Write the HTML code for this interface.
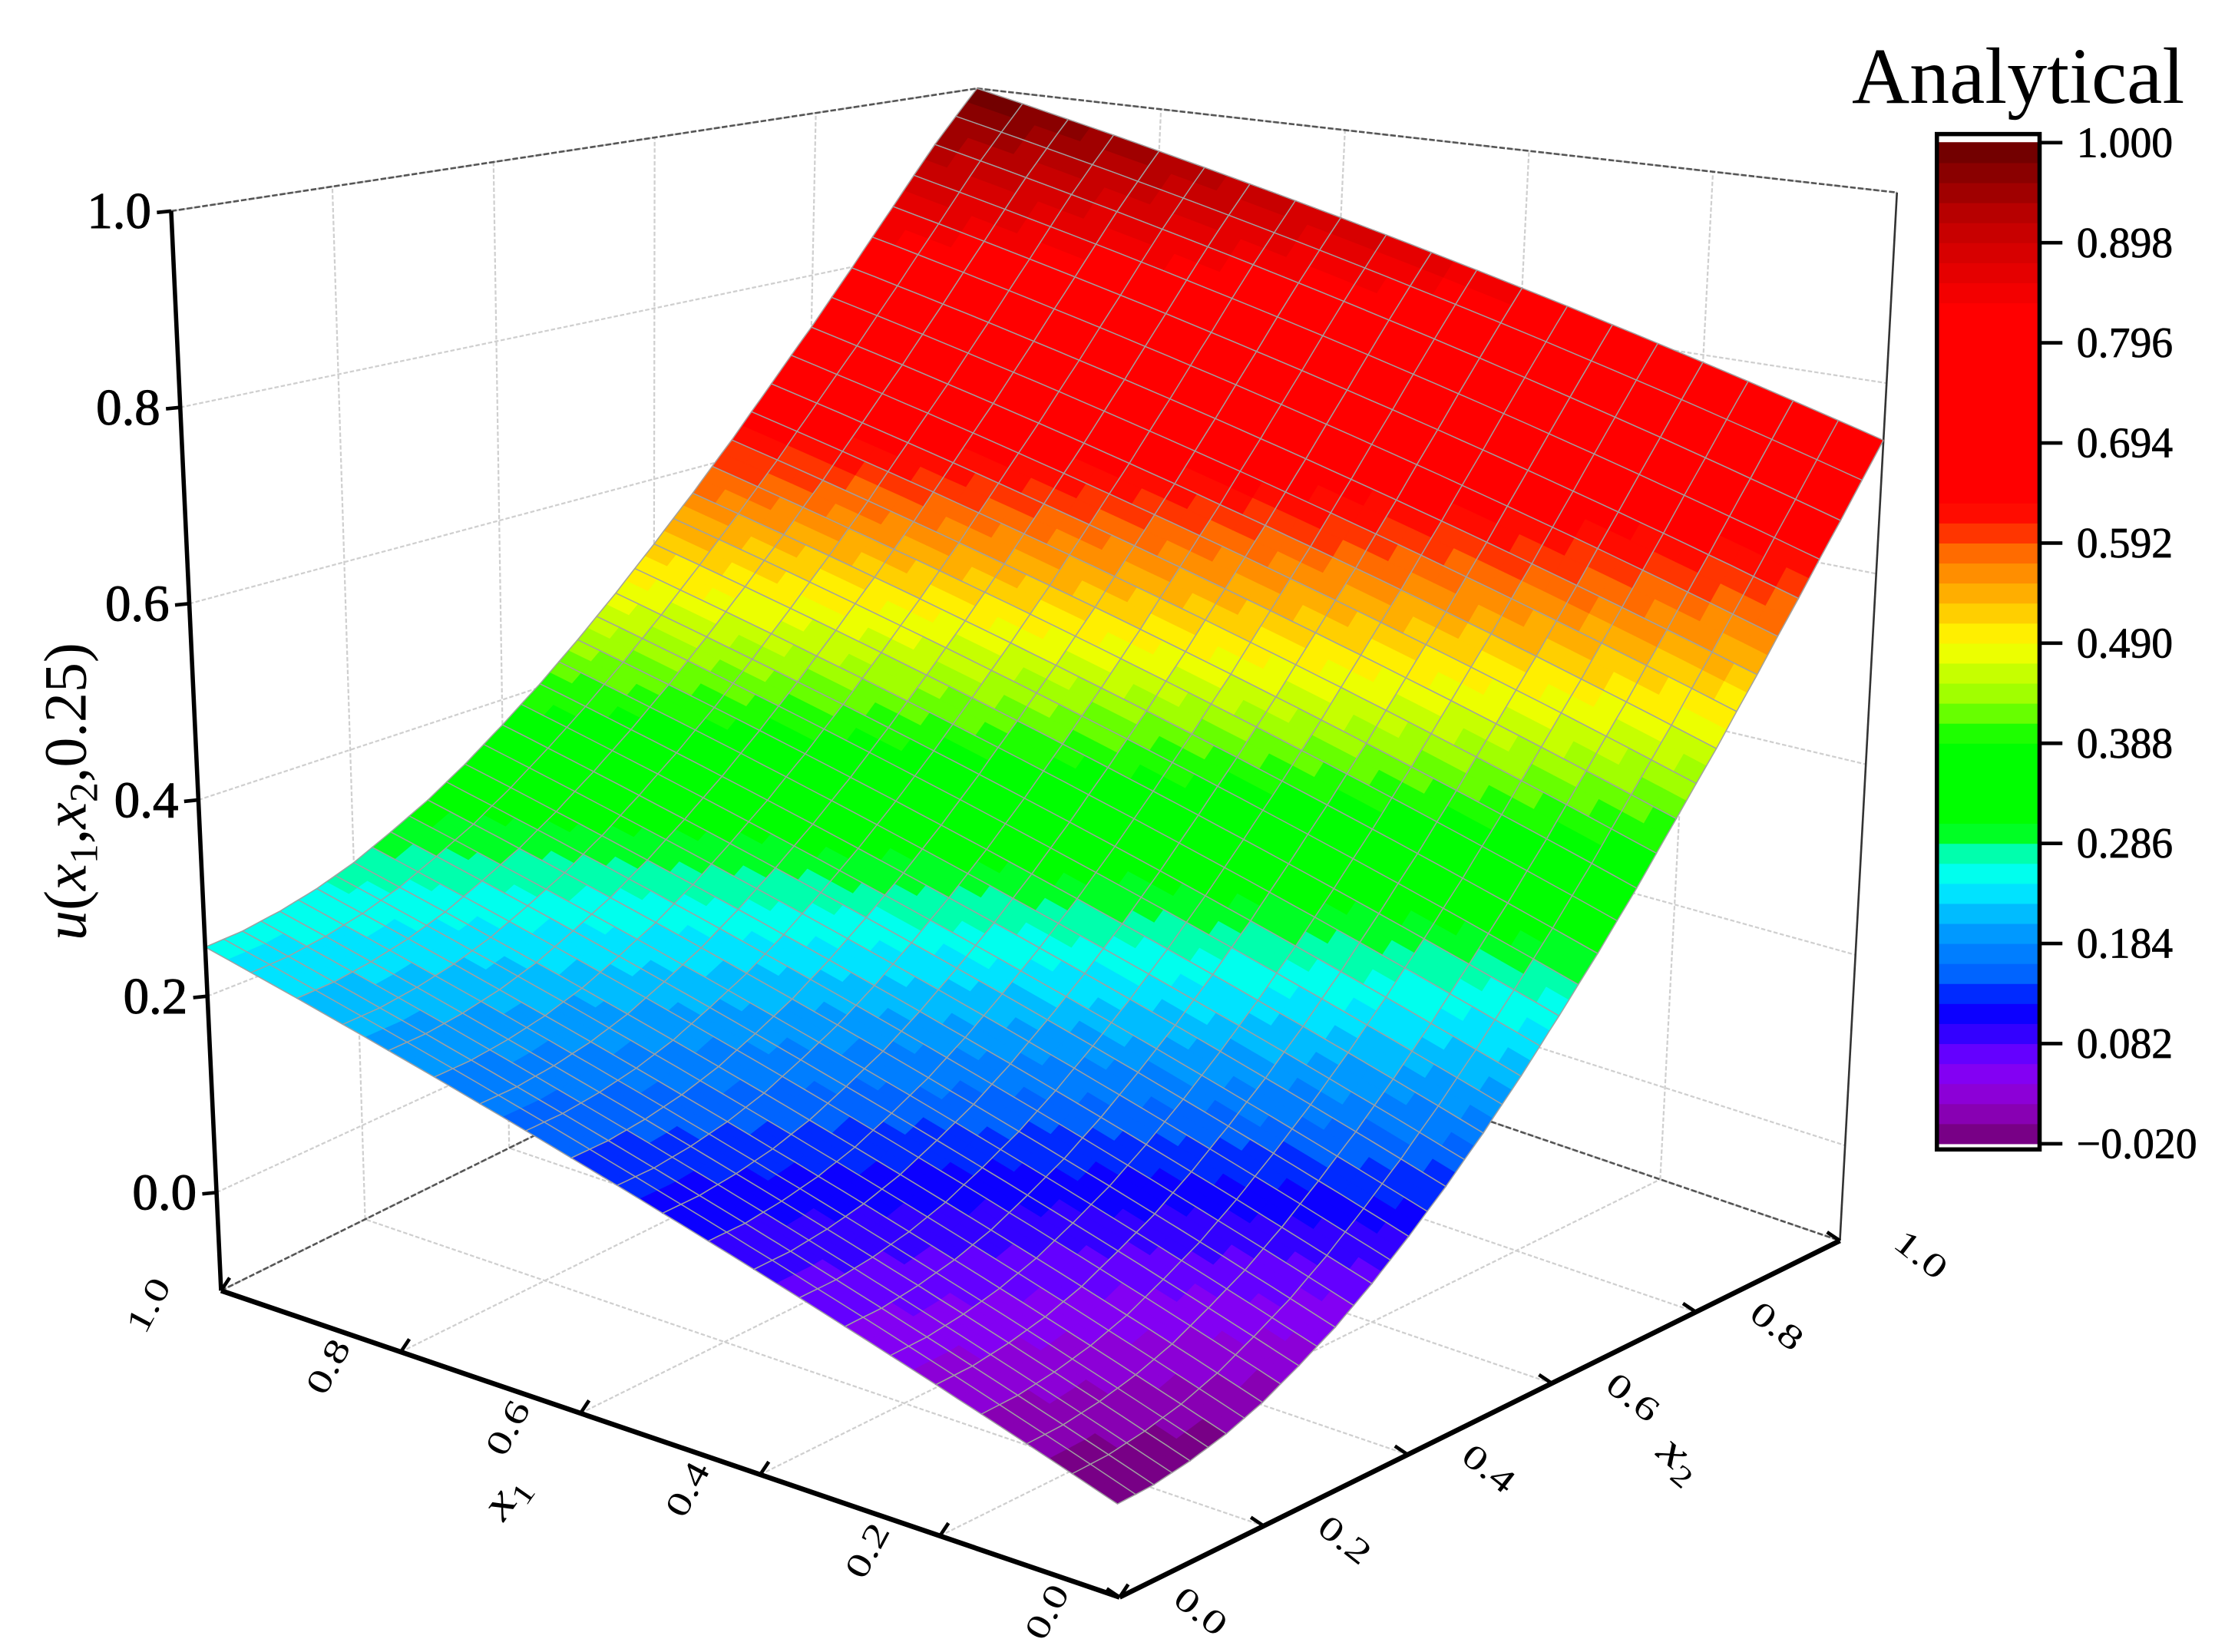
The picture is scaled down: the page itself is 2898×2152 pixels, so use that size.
<!DOCTYPE html>
<html><head><meta charset="utf-8"><title>Analytical surface</title>
<style>html,body{margin:0;padding:0;background:#fff}svg{display:block}</style></head>
<body>
<svg id="chart" xmlns="http://www.w3.org/2000/svg" width="2898" height="2152" viewBox="0 0 1560 1158.4" font-family="'Liberation Serif', serif">
<g id="walls"></g>
<g id="surf"></g>
<g id="axes"></g>
<g id="cbar"></g>
</svg>
<script>
const x1Vals=[0,0.1,0.2,0.3,0.4,0.5,0.6,0.7,0.8,0.9,1.0];
const x2Vals=[0,0.05,0.1,0.15,0.2,0.25,0.3,0.35,0.4,0.45,0.5,0.55,0.6,0.65,0.7,0.75,0.8,0.85,0.9,0.95,1.0];
const uRows=[
[-0.020,-0.018,-0.012,-0.003,0.010,0.028,0.048,0.073,0.102,0.134,0.170,0.210,0.254,0.301,0.352,0.408,0.466,0.529,0.596,0.666,0.740],
[0.007,0.009,0.015,0.024,0.037,0.055,0.075,0.100,0.129,0.161,0.197,0.237,0.281,0.328,0.379,0.435,0.493,0.556,0.623,0.693,0.766],
[0.034,0.036,0.042,0.051,0.064,0.082,0.102,0.127,0.156,0.188,0.224,0.264,0.308,0.355,0.406,0.462,0.520,0.583,0.650,0.720,0.792],
[0.061,0.063,0.069,0.078,0.091,0.109,0.129,0.154,0.183,0.215,0.251,0.291,0.335,0.382,0.433,0.489,0.547,0.610,0.677,0.747,0.818],
[0.088,0.090,0.096,0.105,0.118,0.136,0.156,0.181,0.210,0.242,0.278,0.318,0.362,0.409,0.460,0.516,0.574,0.637,0.704,0.774,0.844],
[0.115,0.117,0.123,0.132,0.145,0.163,0.183,0.208,0.237,0.269,0.305,0.345,0.389,0.436,0.487,0.543,0.601,0.664,0.731,0.801,0.870],
[0.142,0.144,0.150,0.159,0.172,0.190,0.210,0.235,0.264,0.296,0.332,0.372,0.416,0.463,0.514,0.570,0.628,0.691,0.758,0.828,0.896],
[0.169,0.171,0.177,0.186,0.199,0.217,0.237,0.262,0.291,0.323,0.359,0.399,0.443,0.490,0.541,0.597,0.655,0.718,0.785,0.855,0.922],
[0.196,0.198,0.204,0.213,0.226,0.244,0.264,0.289,0.318,0.350,0.386,0.426,0.470,0.517,0.568,0.624,0.682,0.745,0.812,0.882,0.948],
[0.223,0.225,0.231,0.240,0.253,0.271,0.291,0.316,0.345,0.377,0.413,0.453,0.497,0.544,0.595,0.651,0.709,0.772,0.839,0.909,0.974],
[0.250,0.252,0.258,0.267,0.280,0.298,0.318,0.343,0.372,0.404,0.440,0.480,0.524,0.571,0.622,0.678,0.736,0.799,0.866,0.936,1.000]];
const zTicks=[0.0,0.2,0.4,0.6,0.8,1.0];
const zTickLabels=["0.0","0.2","0.4","0.6","0.8","1.0"];
const xyTicks=[0,0.2,0.4,0.6,0.8,1.0];
const xyTickLabels=["0.0","0.2","0.4","0.6","0.8","1.0"];
const cbarTicks=[1.000,0.898,0.796,0.694,0.592,0.490,0.388,0.286,0.184,0.082,-0.020];
const cbarLabels=["1.000","0.898","0.796","0.694","0.592","0.490","0.388","0.286","0.184","0.082","\u22120.020"];

const NS="http://www.w3.org/2000/svg";
const ZMIN=-0.1,ZMAX=1.0,VMIN=-0.02,VMAX=1.0,NLEV=50,SUB=4;
const B={p00:[785,1120],p10:[155,905],p01:[1290,870],p11:[660,655]};
const T={p00:[765,221],p10:[120,148],p01:[1330,135],p11:[685,62]};
function bil(C,a,b){return [0,1].map(k=>C.p00[k]*(1-a)*(1-b)+C.p10[k]*a*(1-b)+C.p01[k]*(1-a)*b+C.p11[k]*a*b);}
function P(a,b,z){const lo=bil(B,a,b),hi=bil(T,a,b),t=(z-ZMIN)/(ZMAX-ZMIN);return [lo[0]+(hi[0]-lo[0])*t,lo[1]+(hi[1]-lo[1])*t];}
const stops=[[-0.02,'#700070'],[0.02,'#9000c8'],[0.06,'#8000ff'],[0.10,'#2000ff'],[0.12,'#0000ff'],[0.15,'#0060ff'],[0.20,'#00a0ff'],[0.25,'#00ffff'],[0.285,'#00ff90'],[0.30,'#00ff00'],[0.39,'#00ff00'],[0.43,'#90ff00'],[0.49,'#ffff00'],[0.54,'#ffb000'],[0.58,'#ff7000'],[0.61,'#ff2000'],[0.63,'#ff0000'],[0.83,'#ff0000'],[0.92,'#c00000'],[1.0,'#680000']];
function hx(c){return [1,3,5].map(i=>parseInt(c.substr(i,2),16));}
function cmapRaw(v){if(v<=stops[0][0])return stops[0][1];for(let i=1;i<stops.length;i++){if(v<=stops[i][0]){const a=hx(stops[i-1][1]),b=hx(stops[i][1]),t=(v-stops[i-1][0])/(stops[i][0]-stops[i-1][0]);return 'rgb('+a.map((x,k)=>Math.round(x+(b[k]-x)*t)).join(',')+')';}}return stops[stops.length-1][1];}
function cmap(v){let l=Math.floor((v-VMIN)/(VMAX-VMIN)*NLEV);l=Math.max(0,Math.min(NLEV-1,l));return cmapRaw(VMIN+(l+0.5)*(VMAX-VMIN)/NLEV);}
function mk(tag,attrs,parent){const e=document.createElementNS(NS,tag);for(const k in attrs)e.setAttribute(k,attrs[k]);parent.appendChild(e);return e;}
function line(p,q,st,w,par,dash){const e=mk('line',{x1:p[0],y1:p[1],x2:q[0],y2:q[1],stroke:st,'stroke-width':w},par);if(dash)e.setAttribute('stroke-dasharray',dash);return e;}
function f(p){return p[0].toFixed(1)+','+p[1].toFixed(1);}

// walls grid
const W=document.getElementById('walls');
xyTicks.forEach(t=>{
 let e=line(P(1,t,ZMIN),P(1,t,ZMAX),'#cfcfcf',1.2,W,'3 1.5');
 
 e=line(P(t,1,ZMIN),P(t,1,ZMAX),'#cfcfcf',1.2,W,'3 1.5');
 
 e=line(P(t,0,ZMIN),P(t,1,ZMIN),'#cfcfcf',1.2,W,'3 1.5');
 
 e=line(P(0,t,ZMIN),P(1,t,ZMIN),'#cfcfcf',1.2,W,'3 1.5');
 
});
zTicks.forEach(z=>{
 let e=line(P(1,0,z),P(1,1,z),'#cfcfcf',1.2,W,'3 1.5');
 
 e=line(P(1,1,z),P(0,1,z),'#cfcfcf',1.2,W,'3 1.5');
 
});
[[P(1,0,ZMAX),P(1,1,ZMAX)],[P(1,1,ZMAX),P(0,1,ZMAX)],[P(1,0,ZMIN),P(1,1,ZMIN)],[P(1,1,ZMIN),P(0,1,ZMIN)],[P(1,1,ZMIN),P(1,1,ZMAX)]].forEach(s=>{
 const e=line(s[0],s[1],'#555',1.4,W,'4 1.5');
 
});
let e0=line(P(0,1,ZMIN),P(0,1,ZMAX),'#333',1.4,W);


// surface
const S=document.getElementById('surf');
const cells=[];
for(let i=0;i<x1Vals.length-1;i++)for(let j=0;j<x2Vals.length-1;j++)cells.push([i,j]);
cells.sort((a,b)=>(x1Vals[b[0]]+x2Vals[b[1]])-(x1Vals[a[0]]+x2Vals[a[1]]));
cells.forEach(([i,j])=>{
 const g=mk('g',{},S);
 
 
 const a0=x1Vals[i],a1=x1Vals[i+1],b0=x2Vals[j],b1=x2Vals[j+1];
 const u00=uRows[i][j],u10=uRows[i+1][j],u01=uRows[i][j+1],u11=uRows[i+1][j+1];
 function q(s,t){const u=u00*(1-s)*(1-t)+u10*s*(1-t)+u01*(1-s)*t+u11*s*t;return [P(a0+(a1-a0)*s,b0+(b1-b0)*t,u),u];}
 for(let s=SUB-1;s>=0;s--)for(let t=SUB-1;t>=0;t--){
  const c=[q(s/SUB,t/SUB),q((s+1)/SUB,t/SUB),q((s+1)/SUB,(t+1)/SUB),q(s/SUB,(t+1)/SUB)];
  const col=cmap((c[0][1]+c[1][1]+c[2][1]+c[3][1])/4);
  const poly=mk('polygon',{points:c.map(x=>f(x[0])).join(' '),fill:col,stroke:col,'stroke-width':0.6,'stroke-linejoin':'round'},g);
  
  
 }
 // mesh lines
 const mesh=[];
 for(let k=0;k<=SUB;k+=2){
  const pa=[],pb=[];
  for(let m=0;m<=SUB;m++){pa.push(f(q(k/SUB,m/SUB)[0]));pb.push(f(q(m/SUB,k/SUB)[0]));}
  mesh.push(pa,pb);
 }
 mesh.forEach(pts=>{
  const pl=mk('polyline',{points:pts.join(' '),fill:'none',stroke:'#a0a0a0','stroke-width':0.8},g);
  
  
 });
});

// axes
const A=document.getElementById('axes');
let ax=line(P(1,0,ZMIN),P(1,0,ZMAX),'#000',3,A);

ax=line(P(1,0,ZMIN),P(0,0,ZMIN),'#000',3.5,A);

ax=line(P(0,0,ZMIN),P(0,1,ZMIN),'#000',3.5,A);

zTicks.forEach((z,k)=>{
 const p=P(1,0,z);
 const t=line(p,[p[0]-10,p[1]+1],'#000',2.5,A);
 
 const tx=mk('text',{x:p[0]-14,y:p[1]+12,'font-size':36,'text-anchor':'end',fill:'#000','stroke':'#000','stroke-width':0.6},A);
 tx.textContent=zTickLabels[k];
 
});
xyTicks.forEach((v,k)=>{
 let p=P(v,0,ZMIN);
 let t=line(p,[p[0]+6,p[1]-9],'#000',2.5,A);
 
 let tx=mk('text',{x:0,y:0,'font-size':32,'text-anchor':'middle',fill:'#000',transform:`translate(${p[0]-44},${p[1]+14}) rotate(-62) scale(1,0.75)`},A);
 tx.textContent=xyTickLabels[k];
 
 p=P(0,v,ZMIN);
 t=line(p,[p[0]-9,p[1]-6],'#000',2.5,A);
 
 tx=mk('text',{x:0,y:0,'font-size':32,'text-anchor':'middle',fill:'#000',transform:`translate(${p[0]+52},${p[1]+16}) rotate(38) scale(1,0.75)`},A);
 tx.textContent=xyTickLabels[k];
 
});
// titles
const zt=mk('text',{x:0,y:0,'font-size':42,'text-anchor':'middle',fill:'#000',transform:'translate(60,555) rotate(-90)'},A);

zt.innerHTML='<tspan font-style="italic">u</tspan>(<tspan font-style="italic">x</tspan><tspan font-size="28" dy="8">1</tspan><tspan dy="-8">,</tspan><tspan font-style="italic">x</tspan><tspan font-size="28" dy="8">2</tspan><tspan dy="-8">,0.25)</tspan>';
const x1t=mk('text',{x:0,y:0,'font-size':40,'text-anchor':'middle',fill:'#000',transform:'translate(362,1055) rotate(-55) scale(1,0.8)'},A);

x1t.innerHTML='<tspan font-style="italic">x</tspan><tspan font-size="26" dy="8">1</tspan>';
const x2t=mk('text',{x:0,y:0,'font-size':40,'text-anchor':'middle',fill:'#000',transform:'translate(1172,1030) rotate(40) scale(1,0.8)'},A);

x2t.innerHTML='<tspan font-style="italic">x</tspan><tspan font-size="26" dy="8">2</tspan>';

// colorbar
const CB=document.getElementById('cbar');
const cx=1358,cw=72,cyTop=100,cyBot=802;
function cy(v){return cyBot-(v-VMIN)/(VMAX-VMIN)*(cyBot-cyTop);}
for(let l=0;l<NLEV;l++){
 const v0=VMIN+l*(VMAX-VMIN)/NLEV,v1=VMIN+(l+1)*(VMAX-VMIN)/NLEV;
 const r=mk('rect',{x:cx,y:cy(v1)-0.3,width:cw,height:cy(v0)-cy(v1)+0.6,fill:cmap((v0+v1)/2)},CB);
 
}
const fr=mk('rect',{x:cx,y:94,width:cw,height:712,fill:'none',stroke:'#000','stroke-width':3},CB);

cbarTicks.forEach((v,k)=>{
 const y=cy(v);
 const t=line([cx+cw,y],[cx+cw+16,y],'#000',2.5,CB);
 
 const tx=mk('text',{x:cx+cw+26,y:y+10,'font-size':30,fill:'#000','stroke':'#000','stroke-width':0.4},CB);
 tx.textContent=cbarLabels[k];
 
});
const ttl=mk('text',{x:1415,y:72,'font-size':56,'text-anchor':'middle',fill:'#000'},CB);
ttl.textContent='Analytical';

</script>
</body></html>
